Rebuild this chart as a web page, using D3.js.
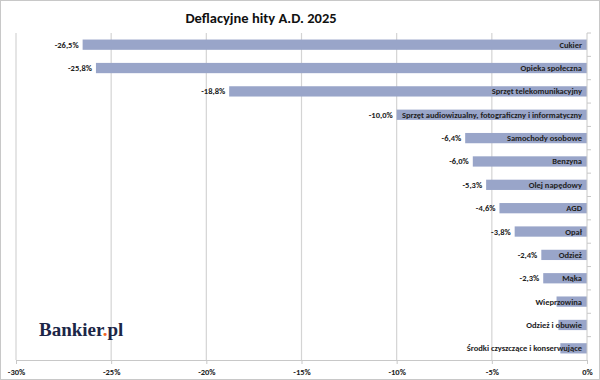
<!DOCTYPE html>
<html>
<head>
<meta charset="utf-8">
<script src="https://cdn.jsdelivr.net/npm/d3@7"></script>
<style>
html,body{margin:0;padding:0;background:#fff;}
svg{display:block;}
</style>
</head>
<body>
<script>
const categories = ["Cukier","Opieka społeczna","Sprzęt telekomunikacyjny","Sprzęt audiowizualny, fotograficzny i informatyczny","Samochody osobowe","Benzyna","Olej napędowy","AGD","Opał","Odzież","Mąka","Wieprzowina","Odzież i obuwie","Środki czyszczące i konserwujące"];
const values = [-26.5,-25.8,-18.8,-10.0,-6.4,-6.0,-5.3,-4.6,-3.8,-2.4,-2.3,-1.6,-1.5,-1.4];
const showValueLabel = [true,true,true,true,true,true,true,true,true,true,true,false,false,false];
const xTicks = [-30,-25,-20,-15,-10,-5,0];
const title = "Deflacyjne hity A.D. 2025";

const W = 600, H = 380;
const svg = d3.select("body").append("svg").attr("width", W).attr("height", H);
const font = "Carlito, 'Open Sans', 'Liberation Sans', sans-serif";

svg.append("rect").attr("x",0.5).attr("y",0.5).attr("width",W-1).attr("height",H-1)
  .attr("fill","#fff").attr("stroke","#c8c8c8");

const x = d3.scaleLinear().domain([-30,0]).range([16,587]);
const y = d3.scaleBand().domain(categories).range([33,360]).paddingInner(0.56).paddingOuter(0.28);
const band = d3.scaleBand().domain(categories).range([33,360]);

// gridlines
svg.append("g").selectAll("line").data(xTicks.filter(t=>t!==0)).join("line")
  .attr("x1",d=>x(d)).attr("x2",d=>x(d)).attr("y1",33).attr("y2",360)
  .attr("stroke","#d4d4d4").attr("stroke-width",1.2);

// x axis
const fmt = d => String(d) + "%";
const xAxis = svg.append("g").attr("transform","translate(0,360)")
  .call(d3.axisBottom(x).tickValues(xTicks).tickFormat(fmt).tickSizeOuter(0).tickSize(4).tickPadding(5));
xAxis.select(".domain").attr("stroke","#c8c8c8");
xAxis.selectAll(".tick line").attr("stroke","#c8c8c8");
xAxis.selectAll("text").attr("font-family",font).attr("font-size",8.5).attr("font-weight","bold").attr("fill","#222");

// bars
svg.append("g").selectAll("rect").data(categories).join("rect")
  .attr("x",(d,i)=>x(values[i])).attr("width",(d,i)=>x(0)-x(values[i]))
  .attr("y",d=>y(d)).attr("height",y.bandwidth())
  .attr("fill","#99a5c9");

// y axis line at 0 with ticks to the right
svg.append("line").attr("x1",x(0)).attr("x2",x(0)).attr("y1",33).attr("y2",360).attr("stroke","#c8c8c8");
svg.append("g").selectAll("line").data(categories.slice(1)).join("line")
  .attr("x1",x(0)).attr("x2",x(0)+4).attr("y1",d=>band(d)).attr("y2",d=>band(d)).attr("stroke","#c8c8c8");
svg.append("line").attr("x1",x(0)).attr("x2",x(0)+4).attr("y1",33).attr("y2",33).attr("stroke","#c8c8c8");

// category labels
svg.append("g").selectAll("text").data(categories).join("text")
  .attr("x",x(0)-5).attr("y",d=>y(d)+y.bandwidth()/2).attr("dy","0.35em")
  .attr("text-anchor","end").attr("font-family",font).attr("font-size",8.5).attr("font-weight","bold").attr("fill","#222")
  .text(d=>d);

// value labels
const vfmt = v => (v<0?"-":"") + Math.abs(v).toFixed(1).replace(".",",") + "%";
svg.append("g").selectAll("text").data(categories.filter((d,i)=>showValueLabel[i])).join("text")
  .attr("x",d=>x(values[categories.indexOf(d)])-4).attr("y",d=>y(d)+y.bandwidth()/2).attr("dy","0.35em")
  .attr("text-anchor","end").attr("font-family",font).attr("font-size",8.5).attr("font-weight","bold").attr("fill","#222")
  .text(d=>vfmt(values[categories.indexOf(d)]));

// title
svg.append("text").attr("x",261).attr("y",23).attr("text-anchor","middle")
  .attr("font-family",font).attr("font-size",14.5).attr("font-weight","bold").attr("fill","#111").text(title);

// logo
const logo = svg.append("text").attr("x",39).attr("y",336).attr("font-family","'Liberation Serif', 'DejaVu Serif', serif")
  .attr("font-size",19).attr("font-weight","bold").attr("fill","#1c2647");
logo.append("tspan").text("Bankier");
logo.append("tspan").attr("fill","#f26522").text(".");
logo.append("tspan").text("pl");
</script>
</body>
</html>
